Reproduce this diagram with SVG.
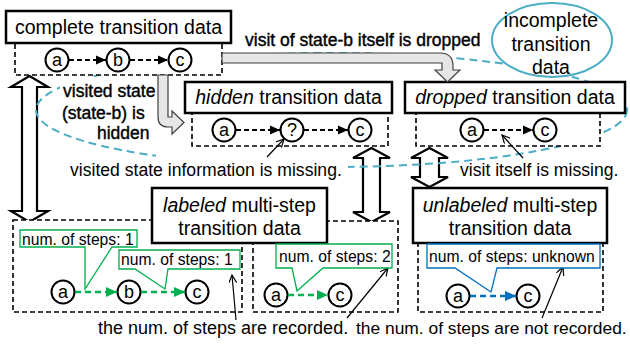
<svg xmlns="http://www.w3.org/2000/svg" width="630" height="344" viewBox="0 0 630 344">
<defs>
<marker id="ah" markerUnits="userSpaceOnUse" markerWidth="11" markerHeight="10" refX="10" refY="5" orient="auto"><path d="M0,0.5 L10,5 L0,9.5 z" fill="#000"/></marker>
<marker id="ahg" markerUnits="userSpaceOnUse" markerWidth="12" markerHeight="11" refX="11" refY="5.5" orient="auto"><path d="M0,0.5 L11,5.5 L0,10.5 z" fill="#00b050"/></marker>
<marker id="ahb" markerUnits="userSpaceOnUse" markerWidth="12" markerHeight="11" refX="11" refY="5.5" orient="auto"><path d="M0,0.5 L11,5.5 L0,10.5 z" fill="#0070c0"/></marker>
<marker id="open" markerUnits="userSpaceOnUse" markerWidth="10" markerHeight="10" refX="8" refY="4" orient="auto"><path d="M0,0 L8,4 L0,8" fill="none" stroke="#000" stroke-width="1.2"/></marker>
</defs>
<style>
text{font-family:"Liberation Sans",Arial,sans-serif;fill:#000}
.h{font-size:19.5px}
.hc{font-size:19.5px;text-anchor:middle}
.n{font-size:18px;text-anchor:middle}
.an{font-size:17.6px}
.b{font-size:17.5px;stroke:#000;stroke-width:0.4}
.lb{font-size:15.7px}
.solid{fill:#fff;stroke:#000;stroke-width:2.5}
.dash{fill:#fff;stroke:#000;stroke-width:1.6;stroke-dasharray:5,3}
.node{fill:#fff;stroke:#000;stroke-width:2}
.ed{fill:none;stroke:#000;stroke-width:2;stroke-dasharray:5,3;marker-end:url(#ah)}
.eg{fill:none;stroke:#00b050;stroke-width:2.6;stroke-dasharray:6,4;marker-end:url(#ahg)}
.eb{fill:none;stroke:#0070c0;stroke-width:2.6;stroke-dasharray:6,4;marker-end:url(#ahb)}
.call{stroke:#000;stroke-width:1.2;fill:none;marker-end:url(#open)}
.gray{fill:#e6e6e6;stroke:#404040;stroke-width:1.2}
.dbl{fill:#fff;stroke:#000;stroke-width:2.2}
.lg{fill:#fff;stroke:#00b050;stroke-width:1.3}
.lbl{fill:#fff;stroke:#0070c0;stroke-width:1.3}
.wb{fill:#fff;stroke:none}
</style>
<rect x="0" y="0" width="630" height="344" fill="#fff"/>

<g id="double-arrows">
<path class="dbl" d="M29.5,76 L48,87 H37 V211 H48 L29.5,222 L11,211 H22 V87 H11 Z"/>
<path class="dbl" d="M371.5,148 L390,158 H380 V212 H390 L371.5,222 L353,212 H363 V158 H353 Z"/>
<path class="dbl" d="M429.5,148 L448,158 H439 V177 H448 L429.5,187 L411,177 H420 V158 H411 Z"/>
</g>

<g id="incomplete-region">
<ellipse cx="331.5" cy="110" rx="295.5" ry="57" fill="none" stroke="#4bacc6" stroke-width="2" stroke-dasharray="8,5"/>
</g>

<g id="text-backgrounds">
<rect class="wb" x="60" y="77" width="100" height="47"/>
<rect class="wb" x="95" y="124" width="57" height="19"/>
<rect class="wb" x="156" y="150" width="192" height="30"/>
</g>

<g id="incomplete-label">
<ellipse cx="552" cy="40" rx="60" ry="37" fill="#fff" stroke="#4bacc6" stroke-width="2"/>
<text class="hc" x="551" y="27">incomplete</text>
<text class="hc" x="551" y="50.5">transition</text>
<text class="hc" x="551" y="74">data</text>
</g>

<g id="complete">
<rect class="dash" x="15" y="43" width="207" height="32"/>
<rect class="solid" x="6" y="11" width="225" height="32"/>
<text class="hc" x="118.5" y="34">complete transition data</text>
<circle class="node" cx="57" cy="60" r="11.5"/><text class="n" x="57" y="66">a</text>
<circle class="node" cx="118" cy="60" r="11.5"/><text class="n" x="118" y="66">b</text>
<circle class="node" cx="180" cy="60" r="11.5"/><text class="n" x="180" y="66">c</text>
</g>

<g id="hidden">
<rect class="dash" x="192" y="113" width="196" height="33"/>
<rect class="solid" x="185" y="82" width="207" height="31"/>
<text class="hc" x="288.5" y="104"><tspan font-style="italic">hidden</tspan> transition data</text>
<circle class="node" cx="224" cy="130" r="11.5"/><text class="n" x="224" y="136">a</text>
<circle class="node" cx="292" cy="130" r="11.5"/><text class="n" x="292" y="136">?</text>
<circle class="node" cx="360" cy="130" r="11.5"/><text class="n" x="360" y="136">c</text>
</g>

<g id="dropped">
<rect class="dash" x="416" y="113" width="184" height="33"/>
<rect class="solid" x="405" y="82" width="220" height="31"/>
<text class="hc" x="515" y="104"><tspan font-style="italic">dropped</tspan> transition data</text>
<circle class="node" cx="472" cy="130" r="11.5"/><text class="n" x="472" y="136">a</text>
<circle class="node" cx="545" cy="130" r="11.5"/><text class="n" x="545" y="136">c</text>
</g>

<g id="labeled">
<rect class="dash" x="13" y="220" width="229" height="92"/>
<rect class="dash" x="253" y="221" width="145" height="91"/>
<rect class="solid" x="152" y="188" width="175" height="55"/>
<text class="hc" x="239.5" y="212"><tspan font-style="italic">labeled</tspan> multi-step</text>
<text class="hc" x="239.5" y="235">transition data</text>
<circle class="node" cx="63" cy="292" r="11.5"/><text class="n" x="63" y="298">a</text>
<circle class="node" cx="129" cy="292" r="11.5"/><text class="n" x="129" y="298">b</text>
<circle class="node" cx="197" cy="292" r="11.5"/><text class="n" x="197" y="298">c</text>
<circle class="node" cx="276" cy="295" r="11.5"/><text class="n" x="276" y="301">a</text>
<circle class="node" cx="340" cy="295" r="11.5"/><text class="n" x="340" y="301">c</text>
</g>

<g id="unlabeled">
<rect class="dash" x="418" y="243" width="185" height="69"/>
<rect class="solid" x="413" y="188" width="194" height="55"/>
<text class="hc" x="510" y="212"><tspan font-style="italic">unlabeled</tspan> multi-step</text>
<text class="hc" x="510" y="235">transition data</text>
<circle class="node" cx="458" cy="296" r="11.5"/><text class="n" x="458" y="302">a</text>
<circle class="node" cx="528" cy="296" r="11.5"/><text class="n" x="528" y="302">c</text>
</g>

<g id="connectors">
<path class="gray" d="M158,75 V117 Q158,127 168,127 H172 V134 L184,122.5 L172,111 V117 H168 V75 Z"/>
<path class="gray" d="M222,53 H440 Q453,53 453,66 V70 H460 L447.5,82 L435,70 H442 V63 H222 Z"/>
<line class="ed" x1="69" y1="60" x2="106" y2="60"/>
<line class="ed" x1="130" y1="60" x2="168" y2="60"/>
<line class="ed" x1="236" y1="130" x2="280" y2="130"/>
<line class="ed" x1="304" y1="130" x2="348" y2="130"/>
<line class="ed" x1="484" y1="130" x2="533" y2="130"/>
<line class="eg" x1="75" y1="292" x2="117" y2="292"/>
<line class="eg" x1="141" y1="292" x2="185" y2="292"/>
<line class="eg" x1="288" y1="295" x2="328" y2="295"/>
<line class="eb" x1="470" y1="296" x2="516" y2="296"/>
<line class="call" x1="267" y1="157" x2="284" y2="139"/>
<line class="call" x1="523" y1="158" x2="502" y2="135"/>
<line class="call" x1="236" y1="320" x2="232" y2="275"/>
<line class="call" x1="347" y1="318" x2="388" y2="268"/>
<line class="call" x1="542" y1="318" x2="563" y2="267"/>
</g>

<g id="step-labels">
<path class="lg" d="M20,230 H137 V247 H112 L85,289 L85,247 H20 Z"/>
<text class="lb" x="22" y="244.5">num. of steps: 1</text>
<path class="lg" d="M119,250 H240 V269 H168 L165,289 L135,269 H119 Z"/>
<text class="lb" x="121" y="265">num. of steps: 1</text>
<path class="lg" d="M276,244 H392 V268 H323 L297,291 L292,268 H276 Z"/>
<text class="lb" x="279" y="262">num. of steps: 2</text>
<path class="lbl" d="M427,244 H600 V268 H497 L491,292 L455,268 H427 Z"/>
<text class="lb" x="429" y="262">num. of steps: unknown</text>
</g>

<g id="annotations">
<text class="b" x="245" y="46">visit of state-b itself is dropped</text>
<text class="b" x="63" y="97">visited state</text>
<text class="b" x="62" y="119">(state-b) is</text>
<text class="b" x="97" y="139">hidden</text>
<text class="an" x="70" y="176">visited state information is missing.</text>
<text class="an" x="460" y="176" font-size="17.4">visit itself is missing.</text>
<text class="an" x="98" y="334" style="font-size:18px">the num. of steps are recorded.</text>
<text class="an" x="356" y="334" style="font-size:17.4px">the num. of steps are not recorded.</text>
</g>
</svg>
